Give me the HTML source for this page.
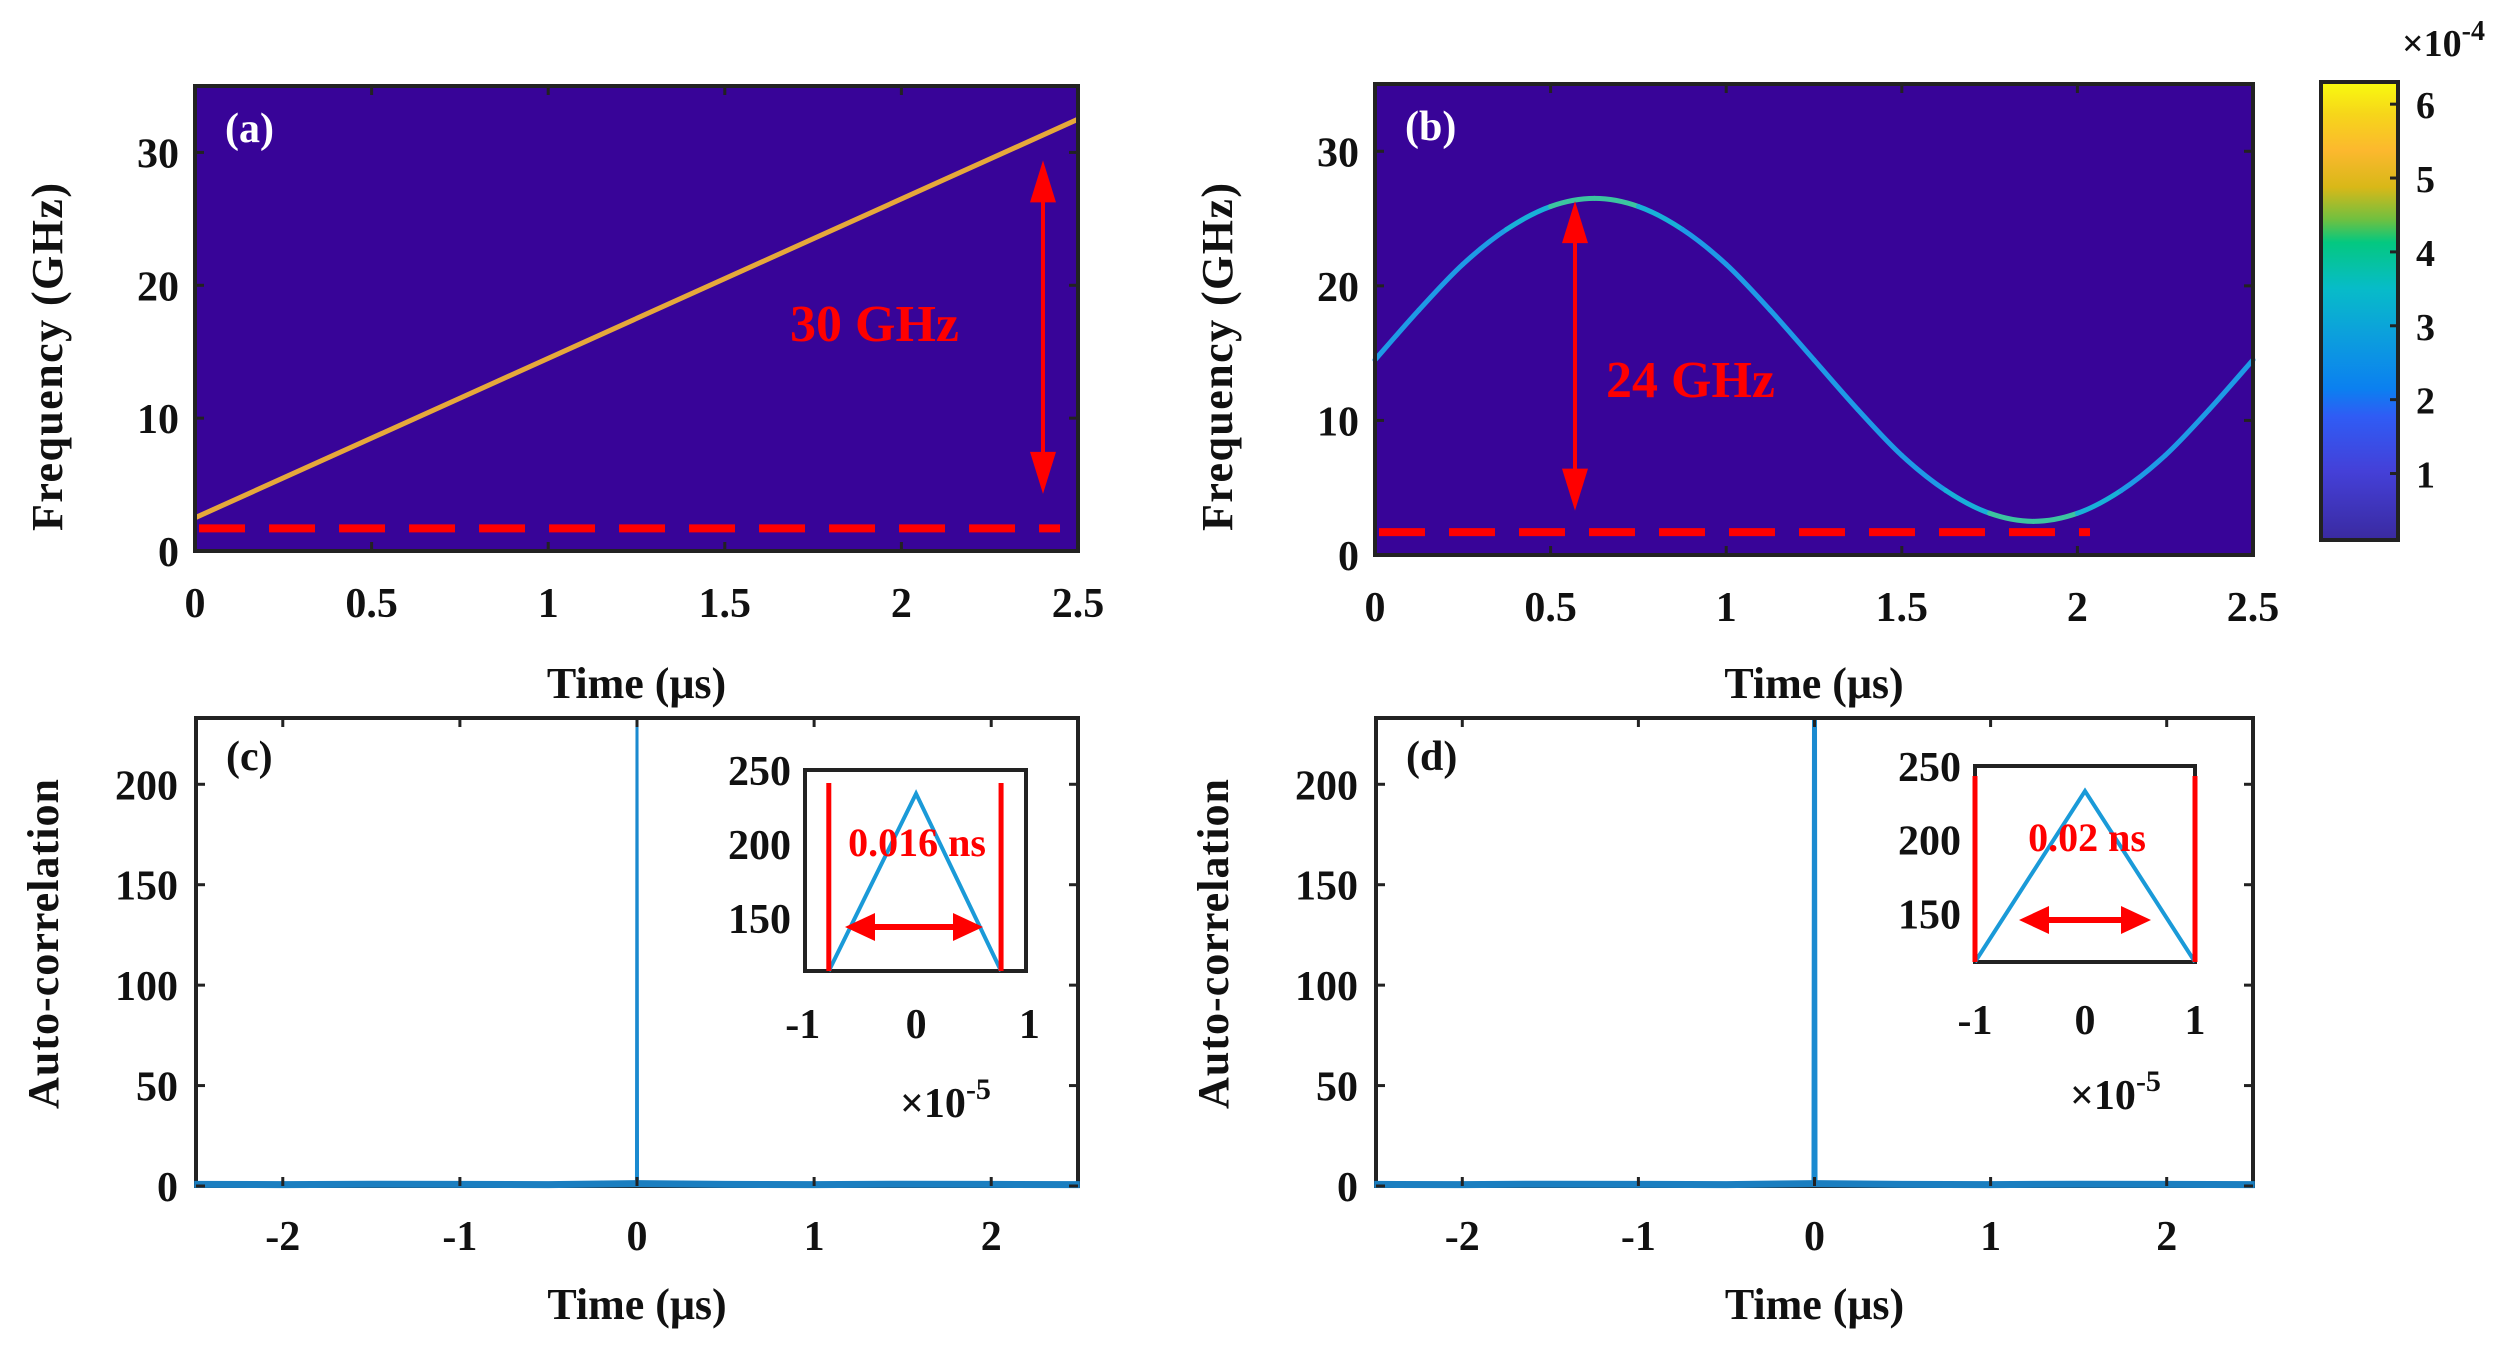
<!DOCTYPE html>
<html><head><meta charset="utf-8"><style>
html,body{margin:0;padding:0;background:#fff;}
svg{display:block;}
text{font-family:"Liberation Serif",serif;font-weight:bold;}
</style></head><body>
<svg id="fig" width="2520" height="1352" viewBox="0 0 2520 1352" xmlns="http://www.w3.org/2000/svg">
<defs>
<linearGradient id="cbgrad" x1="0" y1="1" x2="0" y2="0">
<stop offset="0" stop-color="#3a2aa0"/>
<stop offset="0.15" stop-color="#4440d8"/>
<stop offset="0.27" stop-color="#2f5cf5"/>
<stop offset="0.33" stop-color="#0b80f0"/>
<stop offset="0.45" stop-color="#0ca0dc"/>
<stop offset="0.55" stop-color="#07bcc8"/>
<stop offset="0.65" stop-color="#04c880"/>
<stop offset="0.70" stop-color="#70c040"/>
<stop offset="0.77" stop-color="#d8b818"/>
<stop offset="0.85" stop-color="#fcb82e"/>
<stop offset="0.93" stop-color="#f6d61a"/>
<stop offset="1" stop-color="#f9fb0e"/>
</linearGradient>
</defs>
<g id="root"></g>
</svg>
<script>
// ---- data ----
const specTicksX = [0, 0.5, 1, 1.5, 2, 2.5];
const specTickLabelsX = ["0", "0.5", "1", "1.5", "2", "2.5"];
const specTicksY = [0, 10, 20, 30];
const chirpTime = [0, 2.5];
const chirpFreq = [2.5, 32.5];
const sineTime = [0,0.125,0.25,0.375,0.5,0.625,0.75,0.875,1.0,1.125,1.25,1.375,1.5,1.625,1.75,1.875,2.0,2.125,2.25,2.375,2.5];
const sineFreq = [14.5,18.2,21.6,24.2,25.9,26.5,25.9,24.2,21.6,18.2,14.5,10.8,7.4,4.8,3.1,2.5,3.1,4.8,7.4,10.8,14.5];
const cbTicks = [1, 2, 3, 4, 5, 6];
const acTicksX = [-2, -1, 0, 1, 2];
const acTicksY = [0, 50, 100, 150, 200];
const acBaseTime = [-2.5,-2,-1.5,-1,-0.5,-0.01,0.01,0.5,1,1.5,2,2.5];
const acBaseVal = [0.8,0.7,0.9,0.8,0.7,1.2,1.2,0.8,0.7,0.9,0.8,0.7];
const spikeTime = [-0.003, 0, 0.003];
const spikeVal = [0, 234, 0];
const insetTicksX = [-1, 0, 1];
const insetTicksY = [150, 200, 250];
const insetCTime = [-0.77, 0, 0.75];
const insetCVal = [114, 234, 114];
const insetDTime = [-1, 0, 1];
const insetDVal = [117, 233, 117];

const NS = "http://www.w3.org/2000/svg";
const root = document.getElementById("root");
function mk(tag, attrs, parent){
  const e = document.createElementNS(NS, tag);
  for (const k in attrs) e.setAttribute(k, attrs[k]);
  (parent||root).appendChild(e);
  return e;
}
function txt(s, x, y, size, fill, anchor, parent){
  const t = mk("text", {x:x, y:y, "font-size":size, fill:fill||"#111", "text-anchor":anchor||"middle"}, parent);
  t.textContent = s;
  return t;
}
function lin(d0,d1,p0,p1){ return v => p0 + (v-d0)/(d1-d0)*(p1-p0); }

function arrowV(x, y1, y2, name){
  const g = mk("g", {});
  
  
  mk("line", {x1:x, y1:y1+30, x2:x, y2:y2-30, stroke:"#f00", "stroke-width":4}, g);
  mk("polygon", {points:`${x},${y1} ${x-13},${y1+42} ${x+13},${y1+42}`, fill:"#f00"}, g);
  mk("polygon", {points:`${x},${y2} ${x-13},${y2-42} ${x+13},${y2-42}`, fill:"#f00"}, g);
}
function arrowH(x1, x2, y, name){
  const g = mk("g", {});
  
  
  mk("line", {x1:x1+20, y1:y, x2:x2-20, y2:y, stroke:"#f00", "stroke-width":6}, g);
  mk("polygon", {points:`${x1},${y} ${x1+30},${y-14} ${x1+30},${y+14}`, fill:"#f00"}, g);
  mk("polygon", {points:`${x2},${y} ${x2-30},${y-14} ${x2-30},${y+14}`, fill:"#f00"}, g);
}

// ---- spectrogram panels ----
function specPanel(P){
  const sx = lin(0, 2.5, P.l, P.r), sy = lin(0, 35, P.b, P.t);
  const bg = mk("rect", {x:P.l, y:P.t, width:P.r-P.l, height:P.b-P.t, fill:"#380498"});
  
  
  P.draw(sx, sy);
  const dl = mk("line", {x1:P.l+4, y1:sy(1.7), x2:P.dashEnd, y2:sy(1.7), stroke:"#f00", "stroke-width":8, "stroke-dasharray":"46 24"});
  
  
  arrowV(P.arrowX, sy(P.arrowTop), sy(P.arrowBot), P.id+'-span-arrow');
  const lab = txt(P.label, P.labX, P.labY, 52, "#f00", "start");
  
  
  const fr = mk("rect", {x:P.l, y:P.t, width:P.r-P.l, height:P.b-P.t, fill:"none", stroke:"#222", "stroke-width":4});
  
  
  specTicksX.forEach((v,i)=>{
    const x = sx(v);
    mk("line", {x1:x, y1:P.b, x2:x, y2:P.b-9, stroke:"#222", "stroke-width":3});
    mk("line", {x1:x, y1:P.t, x2:x, y2:P.t+9, stroke:"#222", "stroke-width":3});
    const t = txt(specTickLabelsX[i], x, P.b+66, 42);
    
    
  });
  specTicksY.forEach(v=>{
    const y = sy(v);
    mk("line", {x1:P.l, y1:y, x2:P.l+9, y2:y, stroke:"#222", "stroke-width":3});
    mk("line", {x1:P.r, y1:y, x2:P.r-9, y2:y, stroke:"#222", "stroke-width":3});
    const t = txt(String(v), P.l-16, y+15, 42, "#111", "end");
    
    
  });
  const pl = txt(P.panel, P.l+30, P.t+56, 42, "#fff", "start");
  
  
  const xt = txt("Time (μs)", (P.l+P.r)/2, 698, 44);
  
  
  const yt = txt("Frequency (GHz)", 0, 0, 44);
  yt.setAttribute("transform", `translate(${P.ytx},357) rotate(-90)`);
  yt.setAttribute("textLength", 348);
  
  
}

specPanel({id:"panel-a", panel:"(a)", l:195, r:1078, t:86, b:551, dashEnd:1060,
  arrowX:1043, arrowTop:29.4, arrowBot:4.3, label:"30 GHz", labX:790, labY:341, ytx:62,
  draw:(sx,sy)=>{
    const ln = mk("line", {x1:sx(chirpTime[0]), y1:sy(chirpFreq[0]), x2:sx(chirpTime[1]), y2:sy(chirpFreq[1]), stroke:"#e6a83a", "stroke-width":5});
    
    
  }});

specPanel({id:"panel-b", panel:"(b)", l:1375, r:2253, t:84, b:555, dashEnd:2090,
  arrowX:1575, arrowTop:26.3, arrowBot:3.3, label:"24 GHz", labX:1606, labY:397, ytx:1232,
  draw:(sx,sy)=>{
    const g = mk("g", {});
    
    
    const n = sineTime.length;
    for (let i=0;i<n-1;i++){
      const p0=[sineTime[Math.max(i-1,0)],sineFreq[Math.max(i-1,0)]], p1=[sineTime[i],sineFreq[i]],
            p2=[sineTime[i+1],sineFreq[i+1]], p3=[sineTime[Math.min(i+2,n-1)],sineFreq[Math.min(i+2,n-1)]];
      const c1=[p1[0]+(p2[0]-p0[0])/6, p1[1]+(p2[1]-p0[1])/6];
      const c2=[p2[0]-(p3[0]-p1[0])/6, p2[1]-(p3[1]-p1[1])/6];
      const slope = Math.abs(p2[1]-p1[1])/(p2[0]-p1[0]);
      let col = "#1e9ae6";
      if (slope < 3) col = "#e8c030"; else if (slope < 10) col = "#3cc4a0"; else if (slope < 18) col="#18b0d8";
      mk("path", {d:`M${sx(p1[0])},${sy(p1[1])} C${sx(c1[0])},${sy(c1[1])} ${sx(c2[0])},${sy(c2[1])} ${sx(p2[0])},${sy(p2[1])}`,
        fill:"none", stroke:col, "stroke-width":5, "stroke-linecap":"round"}, g);
    }
  }});

// ---- colorbar ----
(function(){
  const l=2321, r=2398, t=82, b=540;
  const sy = lin(0.1, 6.3, b, t);
  const cb = mk("rect", {x:l, y:t, width:r-l, height:b-t, fill:"url(#cbgrad)", stroke:"#222", "stroke-width":4});
  
  
  cbTicks.forEach(v=>{
    const y = sy(v);
    mk("line", {x1:r, y1:y, x2:r-8, y2:y, stroke:"#222", "stroke-width":3});
    const t = txt(String(v), 2416, y+14, 38, "#111", "start");
    
    
  });
  const ex = txt("", 2402, 56, 38, "#111", "start");
  ex.innerHTML = '×10<tspan dy="-16" font-size="28">-4</tspan>';
  
  
})();

// ---- autocorrelation panels ----
function acPanel(P){
  const sx = lin(-2.49, 2.49, P.l, P.r), sy = lin(0, 233, P.b, P.t);
  const bg = mk("rect", {x:P.l, y:P.t, width:P.r-P.l, height:P.b-P.t, fill:"#fff"});
  
  
  const sp = mk("polyline", {points:spikeTime.map((t,i)=>`${sx(t)},${sy(spikeVal[i])}`).join(" "), fill:"none", stroke:"#1a8ad0", "stroke-width":P.spikeW});
  
  
  const fr = mk("rect", {x:P.l, y:P.t, width:P.r-P.l, height:P.b-P.t, fill:"none", stroke:"#222", "stroke-width":4});
  
  
  const base = mk("polyline", {points:acBaseTime.map((t,i)=>`${sx(t)},${sy(acBaseVal[i])}`).join(" "), fill:"none", stroke:"#1a7ec0", "stroke-width":7});
  
  
  acTicksX.forEach(v=>{
    const x = sx(v);
    mk("line", {x1:x, y1:P.b, x2:x, y2:P.b-9, stroke:"#222", "stroke-width":3});
    mk("line", {x1:x, y1:P.t, x2:x, y2:P.t+9, stroke:"#222", "stroke-width":3});
    const t = txt(String(v), x, 1250, 42);
    
    
  });
  acTicksY.forEach(v=>{
    const y = sy(v);
    mk("line", {x1:P.l, y1:y, x2:P.l+9, y2:y, stroke:"#222", "stroke-width":3});
    mk("line", {x1:P.r, y1:y, x2:P.r-9, y2:y, stroke:"#222", "stroke-width":3});
    const t = txt(String(v), P.l-18, y+15, 42, "#111", "end");
    
    
  });
  const pl = txt(P.panel, P.l+30, P.t+52, 42, "#111", "start");
  
  
  const xt = txt("Time (μs)", (P.l+P.r)/2, 1319, 44);
  
  
  const yt = txt("Auto-correlation", 0, 0, 44);
  yt.setAttribute("transform", `translate(${P.ytx},944) rotate(-90)`);
  yt.setAttribute("textLength", 330);
  
  

  const I = P.inset;
  const ix = lin(I.x0, I.x1, I.l, I.r), iy = lin(I.y0, 250, I.b, I.t);
  const ib = mk("rect", {x:I.l, y:I.t, width:I.r-I.l, height:I.b-I.t, fill:"#fff", stroke:"#222", "stroke-width":4});
  
  
  const tri = mk("polyline", {points:I.time.map((t,i)=>`${ix(t)},${iy(I.val[i])}`).join(" "), fill:"none", stroke:"#1a9ad8", "stroke-width":4});
  
  
  [I.time[0], I.time[I.time.length-1]].forEach(t=>{
    const v = mk("line", {x1:ix(t), y1:I.redTop, x2:ix(t), y2:I.b, stroke:"#f00", "stroke-width":5});
    
    
  });
  arrowH(I.arX1, I.arX2, I.arY, P.id+'-inset-width-arrow');
  const wl = txt(I.label, I.labX, I.labY, 40, "#f00", "middle");
  
  
  insetTicksY.forEach(v=>{
    const t = txt(String(v), I.l-14, iy(v)+15, 42, "#111", "end");
    
    
  });
  insetTicksX.forEach(v=>{
    const t = txt(String(v), ix(v), I.xlabY, 42, "#111", "middle");
    
    
  });
  const ex = txt("", I.exX, I.exY, 42, "#111", "start");
  ex.innerHTML = '×10<tspan dy="-18" font-size="30">-5</tspan>';
  
  
}

acPanel({id:"panel-c", panel:"(c)", l:196, r:1078, t:718, b:1186, ytx:58, spikeW:3,
  inset:{l:805, r:1026, t:770, b:971, x0:-0.98, x1:0.97, y0:114, time:insetCTime, val:insetCVal,
    redTop:783, arX1:845, arX2:983, arY:927, label:"0.016 ns", labX:917, labY:856, xlabY:1038, exX:900, exY:1117}});
acPanel({id:"panel-d", panel:"(d)", l:1376, r:2253, t:718, b:1186, ytx:1228, spikeW:5,
  inset:{l:1975, r:2195, t:766, b:962, x0:-1, x1:1, y0:117, time:insetDTime, val:insetDVal,
    redTop:776, arX1:2019, arX2:2151, arY:920, label:"0.02 ns", labX:2087, labY:851, xlabY:1034, exX:2070, exY:1109}});
</script>
</body></html>
